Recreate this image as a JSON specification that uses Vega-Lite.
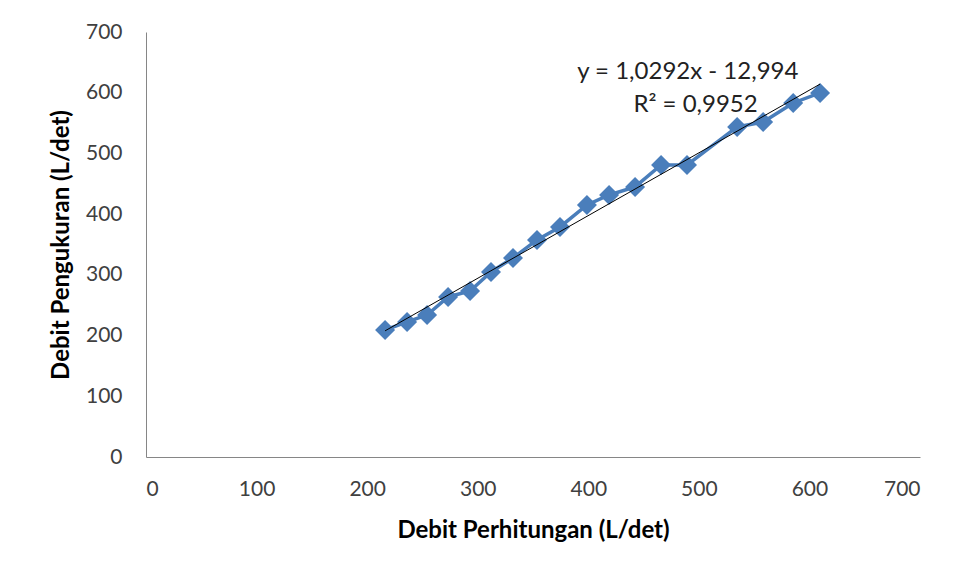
{
  "$schema": "https://vega.github.io/schema/vega-lite/v6.json",
  "autosize": {"type": "none"},
  "width": 774,
  "height": 425,
  "padding": {"left": 146, "top": 32, "right": 39, "bottom": 122},
  "background": "white",
  "config": {
    "view": {"stroke": null},
    "font": "Lato",
    "axis": {
      "grid": false,
      "ticks": false,
      "domainColor": "#868686",
      "domainWidth": 1,
      "labelFont": "Lato",
      "labelFontSize": 21,
      "labelColor": "#404040",
      "titleFont": "Lato",
      "titleFontSize": 24,
      "titleFontWeight": "bold",
      "titleColor": "#000000"
    }
  },
  "datasets": {
    "pts": [
      {"hitung": 216.2, "ukur": 209.2},
      {"hitung": 236.1, "ukur": 222.4},
      {"hitung": 254.2, "ukur": 233.9},
      {"hitung": 273.2, "ukur": 263.6},
      {"hitung": 293.1, "ukur": 273.5},
      {"hitung": 312.0, "ukur": 304.8},
      {"hitung": 331.9, "ukur": 327.8},
      {"hitung": 353.6, "ukur": 357.5},
      {"hitung": 374.4, "ukur": 378.9},
      {"hitung": 398.8, "ukur": 415.2},
      {"hitung": 418.8, "ukur": 431.6},
      {"hitung": 442.3, "ukur": 444.8},
      {"hitung": 465.8, "ukur": 481.0},
      {"hitung": 489.3, "ukur": 481.0},
      {"hitung": 534.6, "ukur": 543.6},
      {"hitung": 558.1, "ukur": 551.8},
      {"hitung": 585.3, "ukur": 583.1},
      {"hitung": 609.6, "ukur": 599.6}
    ],
    "notes": [
      {"hitung": 490, "ukur": 634, "label": "y = 1,0292x - 12,994"},
      {"hitung": 497, "ukur": 580, "label": "R² = 0,9952"}
    ]
  },
  "encoding": {
    "x": {
      "field": "hitung",
      "type": "quantitative",
      "scale": {"domain": [0, 700], "nice": false},
      "axis": {"values": [0, 100, 200, 300, 400, 500, 600, 700], "title": "Debit Perhitungan (L/det)", "labelPadding": 21, "titlePadding": 19}
    },
    "y": {
      "field": "ukur",
      "type": "quantitative",
      "scale": {"domain": [0, 700], "nice": false},
      "axis": {"values": [0, 100, 200, 300, 400, 500, 600, 700], "title": "Debit Pengukuran (L/det)", "labelPadding": 24, "titlePadding": 12}
    }
  },
  "layer": [
    {
      "data": {"name": "pts"},
      "mark": {"type": "line", "color": "#4A7EBB", "strokeWidth": 3.5},
      "encoding": {}
    },
    {
      "data": {"name": "pts"},
      "mark": {"type": "point", "shape": "diamond", "filled": true, "color": "#4A7EBB", "size": 400, "opacity": 1},
      "encoding": {}
    },
    {
      "data": {"name": "pts"},
      "transform": [{"regression": "ukur", "on": "hitung"}],
      "mark": {"type": "line", "color": "#000000", "strokeWidth": 1},
      "encoding": {}
    },
    {
      "data": {"name": "notes"},
      "mark": {"type": "text", "fontSize": 24, "color": "#222222", "font": "Lato"},
      "encoding": {"text": {"field": "label"}}
    }
  ]
}
